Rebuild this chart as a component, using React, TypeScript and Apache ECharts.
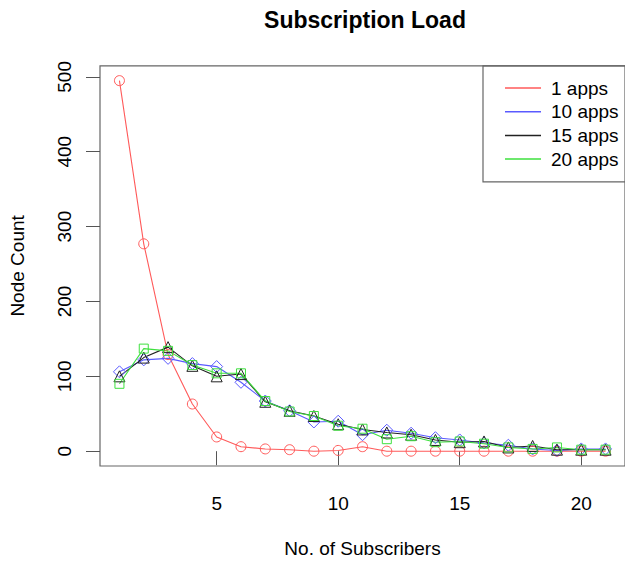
import React, { useEffect, useRef } from "react";
import * as echarts from "echarts";

const subscribers = [1, 2, 3, 4, 5, 6, 7, 8, 9, 10, 11, 12, 13, 14, 15, 16, 17, 18, 19, 20, 21];
const apps1 = [495, 277, 129, 63, 19, 6, 3, 2, 0, 1, 6, 0, 0, 0, 0, 0, 0, 0, 0, 0, 0];
const apps10 = [106, 122, 124, 117, 113, 92, 67, 54, 39, 40, 22, 28, 24, 18, 15, 11, 8, 3, 1, 3, 3];
const apps15 = [100, 125, 139, 114, 100, 103, 66, 54, 47, 36, 29, 25, 22, 15, 12, 13, 5, 7, 2, 2, 2];
const apps20 = [90, 137, 134, 115, 104, 104, 67, 53, 47, 34, 30, 16, 20, 12, 13, 10, 5, 3, 5, 2, 2];
const seriesNames = ["1 apps", "10 apps", "15 apps", "20 apps"];
const seriesColors = ["#ff5a5a", "#5a5aff", "#222222", "#3ee03e"];
const xTicks = [5, 10, 15, 20];
const yTicks = [0, 100, 200, 300, 400, 500];

const FONT = "'Liberation Sans', Arial, Helvetica, sans-serif";

export default function App() {
  const ref = useRef<HTMLDivElement>(null);
  useEffect(() => {
    if (!ref.current) return;
    const chart = echarts.init(ref.current, undefined, { renderer: "svg" });
    const pairs = (ys: number[]) => subscribers.map((x, i) => [x, ys[i]]);
    const mk = (idx: number, ys: number[], symbol: string, size: number) => ({
      name: seriesNames[idx],
      type: "line",
      data: pairs(ys),
      symbol,
      symbolSize: size,
      showSymbol: true,
      smooth: false,
      lineStyle: { color: seriesColors[idx], width: 1.1 },
      itemStyle: { color: "transparent", borderColor: seriesColors[idx], borderWidth: 1 },
      emphasis: { disabled: true },
    });
    chart.setOption({
      animation: false,
      backgroundColor: "#ffffff",
      textStyle: { fontFamily: FONT },
      title: {
        text: "Subscription Load",
        left: 360,
        top: 3,
        textAlign: "center",
        textStyle: { fontFamily: FONT, fontSize: 23, fontWeight: "bold", color: "#000" },
      },
      grid: {
        left: 100,
        top: 65.8,
        right: -5,
        bottom: 94,
        show: true,
        borderColor: "#666",
        borderWidth: 1.2,
        backgroundColor: "transparent",
      },
      legend: {
        orient: "vertical",
        left: 500,
        top: 73,
        itemWidth: 36,
        itemHeight: 1.5,
        itemGap: 3.7,
        icon: "rect",
        selectedMode: false,
        data: seriesNames.map((n, i) => ({
          name: n,
          itemStyle: { color: seriesColors[i], borderWidth: 0 },
        })),
        textStyle: { fontFamily: FONT, fontSize: 19, color: "#000", lineHeight: 20, padding: [0, 0, 0, 5] },
      },
      xAxis: {
        type: "value",
        min: 0.2,
        max: 21.8,
        name: "No. of Subscribers",
        nameLocation: "middle",
        nameGap: 73,
        nameTextStyle: { fontFamily: FONT, fontSize: 19, color: "#000" },
        axisLine: { show: false },
        splitLine: { show: false },
        axisTick: { show: true, inside: false, length: 14, customValues: xTicks, lineStyle: { color: "#555" } },
        axisLabel: { customValues: xTicks, fontFamily: FONT, fontSize: 19, color: "#000", margin: 28 },
      },
      yAxis: {
        type: "value",
        min: -19.8,
        max: 514.8,
        name: "Node Count",
        nameLocation: "middle",
        nameGap: 73,
        nameTextStyle: { fontFamily: FONT, fontSize: 19, color: "#000" },
        axisLine: { show: false },
        splitLine: { show: false },
        axisTick: { show: true, inside: false, length: 14, customValues: yTicks, lineStyle: { color: "#555" } },
        axisLabel: { customValues: yTicks, rotate: 90, fontFamily: FONT, fontSize: 19, color: "#000", margin: 26 },
      },
      graphic: [
        {
          type: "rect",
          shape: { x: 483, y: 65.8, width: 160, height: 116 },
          style: { fill: "none", stroke: "#666", lineWidth: 1.2 },
          z: 10,
        },
      ],
      series: [
        mk(0, apps1, "circle", 10),
        mk(1, apps10, "diamond", 12),
        mk(2, apps15, "triangle", 11),
        mk(3, apps20, "rect", 9),
      ],
    });
    return () => chart.dispose();
  }, []);
  return (
    <div
      ref={ref}
      style={{ position: "absolute", left: 0, top: 0, width: 625, height: 563, background: "#fff" }}
    />
  );
}
